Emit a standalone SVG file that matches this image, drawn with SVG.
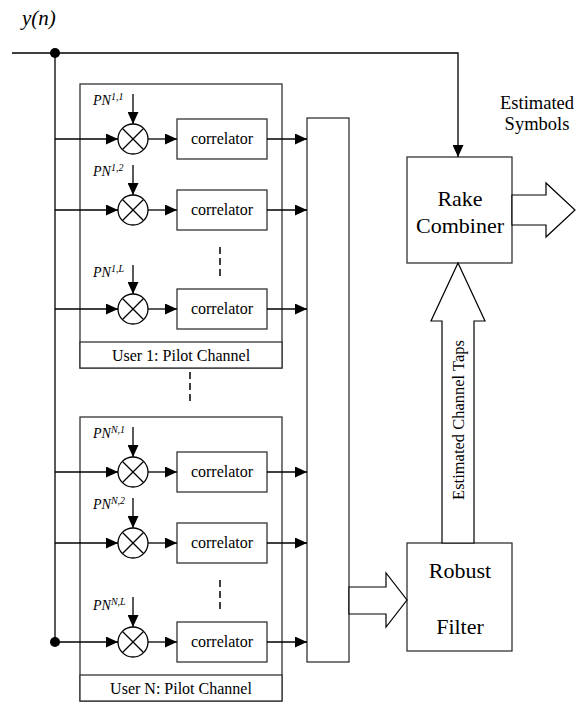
<svg xmlns="http://www.w3.org/2000/svg" width="578" height="702" viewBox="0 0 578 702">
<style>
  text { font-family: 'Liberation Serif', 'DejaVu Serif', serif; fill: #000; }
  .box { fill: #fff; stroke: #333; stroke-width: 1.3; }
  .ln { fill: none; stroke: #000; stroke-width: 1.3; }
  .arw { fill: none; stroke: #000; stroke-width: 1.3; marker-end: url(#ah); }
  .dash { fill: none; stroke: #000; stroke-width: 1.5; stroke-dasharray: 7 4; }
  .fat { fill: #fff; stroke: #000; stroke-width: 1.2; }
  .corr { font-size: 16px; text-anchor: middle; }
  .pn { font-size: 14px; font-style: italic; }
  .band { font-size: 16px; text-anchor: middle; }
  .big { font-size: 22px; text-anchor: middle; }
  .mult circle { fill: #fff; stroke: #000; stroke-width: 1.3; }
  .mult line { stroke: #000; stroke-width: 1.2; }
</style>
<defs>
  <marker id="ah" viewBox="0 0 12 11" markerWidth="12" markerHeight="11" refX="12" refY="5.5" orient="auto" markerUnits="userSpaceOnUse">
    <path d="M0,0 L12,5.5 L0,11 z" fill="#000"/>
  </marker>
</defs>

<g id="label-yn"><text x="22" y="25" font-size="21" font-style="italic">y(n)</text></g>

<g id="user1">
  <rect class="box" x="80" y="84" width="202" height="284"/>
  <rect class="box" x="80" y="342" width="202" height="26"/>
  <text class="band" x="181" y="361">User 1: Pilot Channel</text>
</g>
<g id="userN">
  <rect class="box" x="80" y="417" width="202" height="284"/>
  <rect class="box" x="80" y="675" width="202" height="26"/>
  <text class="band" x="181" y="694">User N: Pilot Channel</text>
</g>

<g id="mult-1-1" class="mult"><circle cx="133" cy="139" r="15"/><line x1="122.5" y1="128.5" x2="143.5" y2="149.5"/><line x1="143.5" y1="128.5" x2="122.5" y2="149.5"/></g>
<g id="mult-1-2" class="mult"><circle cx="133" cy="210" r="15"/><line x1="122.5" y1="199.5" x2="143.5" y2="220.5"/><line x1="143.5" y1="199.5" x2="122.5" y2="220.5"/></g>
<g id="mult-1-L" class="mult"><circle cx="133" cy="309" r="15"/><line x1="122.5" y1="298.5" x2="143.5" y2="319.5"/><line x1="143.5" y1="298.5" x2="122.5" y2="319.5"/></g>
<g id="mult-N-1" class="mult"><circle cx="133" cy="472" r="15"/><line x1="122.5" y1="461.5" x2="143.5" y2="482.5"/><line x1="143.5" y1="461.5" x2="122.5" y2="482.5"/></g>
<g id="mult-N-2" class="mult"><circle cx="133" cy="543" r="15"/><line x1="122.5" y1="532.5" x2="143.5" y2="553.5"/><line x1="143.5" y1="532.5" x2="122.5" y2="553.5"/></g>
<g id="mult-N-L" class="mult"><circle cx="133" cy="642" r="15"/><line x1="122.5" y1="631.5" x2="143.5" y2="652.5"/><line x1="143.5" y1="631.5" x2="122.5" y2="652.5"/></g>

<g id="pn-1-1"><text class="pn" x="93" y="105">PN<tspan font-size="10" dy="-5">1,1</tspan></text></g>
<g id="pn-1-2"><text class="pn" x="93" y="176">PN<tspan font-size="10" dy="-5">1,2</tspan></text></g>
<g id="pn-1-L"><text class="pn" x="93" y="277">PN<tspan font-size="10" dy="-5">1,L</tspan></text></g>
<g id="pn-N-1"><text class="pn" x="93" y="438">PN<tspan font-size="10" dy="-5">N,1</tspan></text></g>
<g id="pn-N-2"><text class="pn" x="93" y="509">PN<tspan font-size="10" dy="-5">N,2</tspan></text></g>
<g id="pn-N-L"><text class="pn" x="93" y="610">PN<tspan font-size="10" dy="-5">N,L</tspan></text></g>

<g id="corr-1-1"><rect class="box" x="177" y="119" width="90" height="40"/><text class="corr" x="222" y="144">correlator</text></g>
<g id="corr-1-2"><rect class="box" x="177" y="190" width="90" height="40"/><text class="corr" x="222" y="215">correlator</text></g>
<g id="corr-1-L"><rect class="box" x="177" y="289" width="90" height="40"/><text class="corr" x="222" y="314">correlator</text></g>
<g id="corr-N-1"><rect class="box" x="177" y="452" width="90" height="40"/><text class="corr" x="222" y="477">correlator</text></g>
<g id="corr-N-2"><rect class="box" x="177" y="523" width="90" height="40"/><text class="corr" x="222" y="548">correlator</text></g>
<g id="corr-N-L"><rect class="box" x="177" y="622" width="90" height="40"/><text class="corr" x="222" y="647">correlator</text></g>

<g id="bar"><rect class="box" x="307" y="118" width="42" height="544"/></g>

<g id="rake">
  <rect class="box" x="407" y="157" width="105" height="106"/>
  <text class="big" x="460" y="206">Rake</text>
  <text class="big" x="460" y="233">Combiner</text>
</g>

<g id="robust">
  <rect class="box" x="407" y="543" width="105" height="108"/>
  <text class="big" x="460" y="578">Robust</text>
  <text class="big" x="460" y="634">Filter</text>
</g>

<g id="label-symbols">
  <text x="537" y="109" font-size="18.5" text-anchor="middle">Estimated</text>
  <text x="537" y="130" font-size="18.5" text-anchor="middle">Symbols</text>
</g>

<g id="connectors">
  <polyline class="arw" points="12,53 458,53 458,157"/>
  <line class="ln" x1="55" y1="53" x2="55" y2="642"/>
  <circle cx="55" cy="53" r="5" fill="#000"/>
  <circle cx="55" cy="642" r="5" fill="#000"/>
  <line class="arw" x1="55" y1="139" x2="118" y2="139"/>
  <line class="arw" x1="55" y1="210" x2="118" y2="210"/>
  <line class="arw" x1="55" y1="309" x2="118" y2="309"/>
  <line class="arw" x1="55" y1="472" x2="118" y2="472"/>
  <line class="arw" x1="55" y1="543" x2="118" y2="543"/>
  <line class="arw" x1="55" y1="642" x2="118" y2="642"/>
  <line class="arw" x1="133" y1="94" x2="133" y2="124"/>
  <line class="arw" x1="133" y1="165" x2="133" y2="195"/>
  <line class="arw" x1="133" y1="265" x2="133" y2="294"/>
  <line class="arw" x1="133" y1="427" x2="133" y2="457"/>
  <line class="arw" x1="133" y1="498" x2="133" y2="528"/>
  <line class="arw" x1="133" y1="597" x2="133" y2="627"/>
  <line class="arw" x1="148" y1="139" x2="177" y2="139"/>
  <line class="arw" x1="148" y1="210" x2="177" y2="210"/>
  <line class="arw" x1="148" y1="309" x2="177" y2="309"/>
  <line class="arw" x1="148" y1="472" x2="177" y2="472"/>
  <line class="arw" x1="148" y1="543" x2="177" y2="543"/>
  <line class="arw" x1="148" y1="642" x2="177" y2="642"/>
  <line class="arw" x1="267" y1="139" x2="307" y2="139"/>
  <line class="arw" x1="267" y1="210" x2="307" y2="210"/>
  <line class="arw" x1="267" y1="309" x2="307" y2="309"/>
  <line class="arw" x1="267" y1="472" x2="307" y2="472"/>
  <line class="arw" x1="267" y1="543" x2="307" y2="543"/>
  <line class="arw" x1="267" y1="642" x2="307" y2="642"/>
  <line class="dash" x1="220" y1="247" x2="220" y2="278"/>
  <line class="dash" x1="220" y1="580" x2="220" y2="611"/>
  <line class="dash" x1="190" y1="372" x2="190" y2="403"/>
  <polygon class="fat" points="512,195 546,195 546,183 575,210 546,237 546,225 512,225"/>
  <polygon class="fat" points="349,587 386,587 386,573 407,600 386,627 386,614 349,614"/>
  <polygon class="fat" points="442,543 442,321 431,321 458,263 485,321 474,321 474,543"/>
  <text x="0" y="0" font-size="16.5" text-anchor="middle" transform="translate(464,420) rotate(-90)">Estimated Channel Taps</text>
</g>
</svg>
